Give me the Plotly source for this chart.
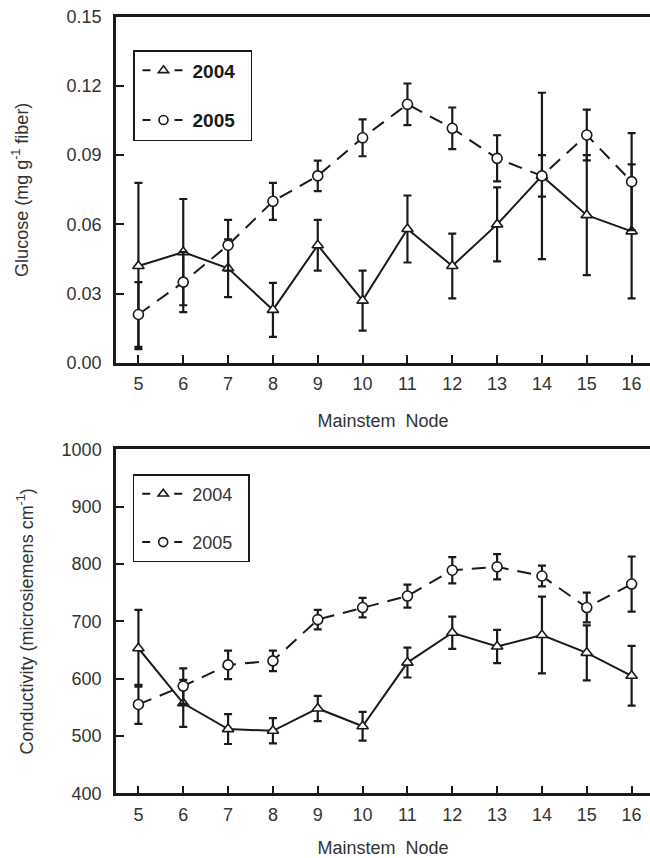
import plotly.graph_objects as go

nodes = [5, 6, 7, 8, 9, 10, 11, 12, 13, 14, 15, 16]

glucose_2004 = [0.042, 0.048, 0.041, 0.023, 0.051, 0.027, 0.058, 0.042, 0.060, 0.081, 0.064, 0.057]
glucose_2004_err = [0.036, 0.023, 0.0125, 0.0117, 0.011, 0.013, 0.0145, 0.014, 0.016, 0.036, 0.026, 0.029]
glucose_2005 = [0.021, 0.035, 0.051, 0.070, 0.081, 0.0975, 0.112, 0.1016, 0.0886, 0.081, 0.0987, 0.0785]
glucose_2005_err = [0.014, 0.013, 0.011, 0.008, 0.0066, 0.008, 0.009, 0.009, 0.010, 0.009, 0.011, 0.021]

cond_2004 = [653, 557, 512, 509, 548, 517, 628, 680, 656, 676, 645, 605]
cond_2004_err = [67, 41, 26, 22, 22, 25, 26, 28, 29, 67, 48, 52]
cond_2005 = [555, 587, 624, 631, 703, 724, 744, 789, 795, 779, 724, 765]
cond_2005_err = [34, 31, 25, 18, 17, 17, 20, 23, 22, 18, 26, 48]

glucose_ticks = [0.00, 0.03, 0.06, 0.09, 0.12, 0.15]
cond_ticks = [400, 500, 600, 700, 800, 900, 1000]

FONT = "Liberation Sans, Arial, sans-serif"
INK = "#1a1a1a"
TXT = "#333333"

fig = go.Figure()

def add_series(x, y, err, xa, ya, symbol, dash):
    fig.add_trace(go.Scatter(
        x=x, y=y, xaxis=xa, yaxis=ya, mode="lines+markers",
        line=dict(color=INK, width=2, dash=dash),
        marker=dict(symbol=symbol, size=10, color="white",
                    line=dict(color=INK, width=1.6)),
        error_y=dict(type="data", array=err, visible=True,
                     color=INK, thickness=2.2, width=4),
        showlegend=False))

add_series(nodes, glucose_2004, glucose_2004_err, "x", "y", "triangle-up", "solid")
add_series(nodes, glucose_2005, glucose_2005_err, "x", "y", "circle", "14px,9px")
add_series(nodes, cond_2004, cond_2004_err, "x2", "y2", "triangle-up", "solid")
add_series(nodes, cond_2005, cond_2005_err, "x2", "y2", "circle", "14px,9px")

# legend entries
for leg, xa, ya, bold in [("legend", "x", "y", True), ("legend2", "x2", "y2", False)]:
    for i, (nm, sym) in enumerate([("2004", "triangle-up"), ("2005", "circle")]):
        label = ("<b>%s</b>" % nm) if bold else nm
        fig.add_trace(go.Scatter(
            x=[None], y=[None], xaxis=xa, yaxis=ya, mode="lines+markers",
            name=label + "&nbsp;&nbsp;",
            line=dict(color=INK, width=2, dash="0px,3px,8px,24px,8px,100px"),
            marker=dict(symbol=sym, size=9, color="white",
                        line=dict(color=INK, width=1.6)),
            legend=leg, legendgroup=leg + nm, showlegend=True))

axis_common = dict(
    showline=True, linecolor=INK, linewidth=2.5,
    ticks="inside", ticklen=8, tickwidth=2, tickcolor=INK,
    showgrid=False, zeroline=False, automargin=False,
    tickfont=dict(family=FONT, size=18, color=TXT),
)

title_font = dict(family=FONT, size=18, color=TXT)

fig.update_layout(
    template="none",
    width=650, height=858,
    margin=dict(l=116, r=0, t=0, b=0),
    paper_bgcolor="white", plot_bgcolor="white",
    font=dict(family=FONT, color=TXT),
    xaxis=dict(domain=[0, 1], range=[4.5, 16.41], tickvals=nodes,
               anchor="y", mirror=True, ticklabelstandoff=3,
               title=dict(text="Mainstem  Node", font=title_font, standoff=22),
               **axis_common),
    yaxis=dict(domain=[1 - 363 / 858, 1 - 16.5 / 858], range=[0, 0.15],
               tickvals=glucose_ticks, tickformat=".2f", anchor="x",
               ticklabelstandoff=8,
               title=dict(text="Glucose (mg g<sup>-1</sup> fiber)", font=title_font, standoff=34),
               **axis_common),
    xaxis2=dict(domain=[0, 1], range=[4.5, 16.41], tickvals=nodes,
                anchor="y2", mirror=True, ticklabelstandoff=3,
                title=dict(text="Mainstem  Node", font=title_font, standoff=22),
                **axis_common),
    yaxis2=dict(domain=[1 - 793.3 / 858, 1 - 449.3 / 858], range=[400, 1000],
                tickvals=cond_ticks, anchor="x2",
                ticklabelstandoff=8,
                title=dict(text="Conductivity (microsiemens cm<sup>-1</sup>)", font=title_font, standoff=24),
                **axis_common),
    legend=dict(x=(133 - 116) / 534, y=1 - 50 / 858, xanchor="left", yanchor="top",
                bordercolor=INK, borderwidth=1.5, bgcolor="white",
                font=dict(family=FONT, size=19, color=INK),
                tracegroupgap=22, itemwidth=48),
    legend2=dict(x=(132.7 - 116) / 534, y=1 - 474 / 858, xanchor="left", yanchor="top",
                 bordercolor=INK, borderwidth=1.5, bgcolor="white",
                 font=dict(family=FONT, size=18, color=TXT),
                 tracegroupgap=22, itemwidth=48),
)

fig.write_html("out.html")
